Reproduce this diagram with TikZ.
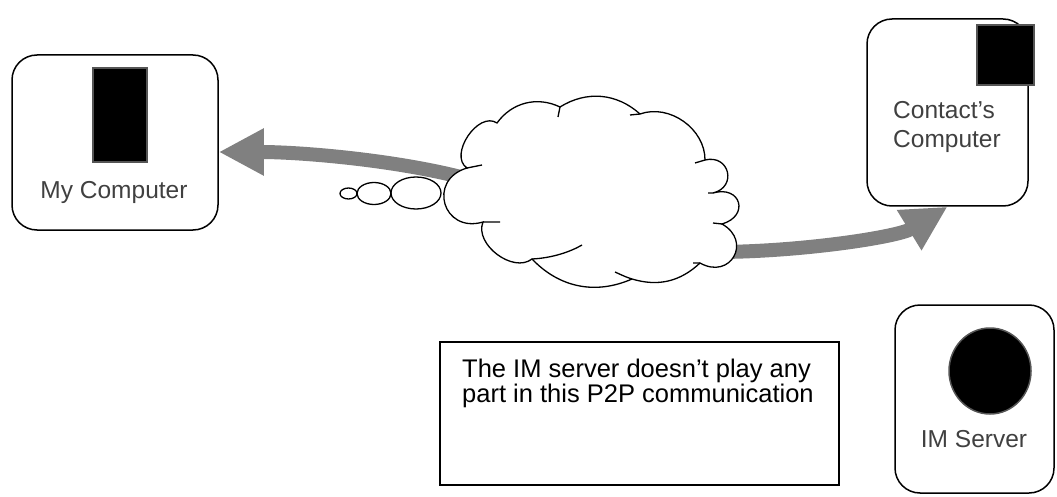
\documentclass[tikz,border=0pt]{standalone}
\usepackage{fontspec}
\setmainfont{Liberation Sans}
\usetikzlibrary{arrows.meta,shapes.geometric}
\definecolor{arrowgrey}{HTML}{808080}
\definecolor{labelgrey}{HTML}{404040}
\definecolor{edgegrey}{HTML}{555555}

\begin{document}
\begin{tikzpicture}[x=1pt,y=-1pt,
  compbox/.style={draw,line width=1.5pt,rounded corners=25pt,inner sep=0pt},
  screenblock/.style={fill=black,draw=edgegrey,line width=1.5pt,inner sep=0pt},
  complabel/.style={text=labelgrey,inner sep=0pt,font=\fontsize{24.5}{29}\selectfont},
  flowarrow/.style={draw=arrowgrey,line width=14pt,-{Triangle[length=45pt,width=44pt]}},
  puff/.style={draw,fill=white,line width=1.3pt}]
\useasboundingbox (0,0) rectangle (1057,497);

% computers and server
\node[compbox,minimum width=206pt,minimum height=175pt] (mycomp) at (115,142.5) {};
\node[screenblock,minimum width=54pt,minimum height=94pt] (myscreen) at (120,115) {};
\node[complabel,anchor=base] (mylabel) at (114,199) {My Computer};

\node[compbox,minimum width=161pt,minimum height=187pt] (contact) at (947.5,112.5) {};
\node[screenblock,minimum width=57pt,minimum height=60pt] (contactscreen) at (1005.5,55) {};
\node[complabel,align=left,anchor=north west] (contactlabel) at (893,101) {Contact's\\Computer};

\node[compbox,minimum width=159pt,minimum height=188pt] (imserver) at (974.5,399) {};
\node[screenblock,ellipse,minimum width=82pt,minimum height=86pt] (serverdisk) at (990,371) {};
\node[complabel,anchor=base] (serverlabel) at (974,447) {IM Server};

% note
\node[draw,line width=1.2pt,minimum width=399pt,minimum height=143pt] (note) at (639.5,413.5) {};
\node[inner sep=0pt,align=left,anchor=north west,font=\fontsize{25.5}{25}\selectfont] (notetext) at (462,359)
  {The IM server doesn't play any\\part in this P2P communication};

% arrows out of the cloud
\coordinate (cloudw) at (472,180);
\coordinate (cloude) at (715,252);
\draw[flowarrow] (cloudw) .. controls (400,160) and (300,152) .. ([yshift=-9.5pt]mycomp.east);
\draw[flowarrow] (cloude) .. controls (800,252) and (898,237) .. (contact.south);

% cloud
\draw[puff] (497,123) to[bend left=40] (560,107) to[bend left=37] (640,114)
  to[bend left=55] (705,160) to[bend left=90,looseness=1.9] (713,193)
  to[bend left=90,looseness=2.3] (722,224) to[bend left=90,looseness=2] (700,263)
  to[bend left=30] (632,279) to[bend left=35] (532,259) to[bend left=75] (483,222)
  to[bend left=90,looseness=1.9] (467,168) to[bend left=90,looseness=1.07] (497,123) -- cycle;
\draw[line width=1.3pt] (560,107) -- (558,117) (640,114) -- (630,115) (705,160) -- (695,163)
  (713,193) -- (708,193) (722,224) -- (713,223) (700,263) -- (693,263)
  (632,279) .. controls (626,277) .. (615,272)
  (532,259) .. controls (552,258) and (570,252) .. (582,245)
  (483,222) -- (500,222) (467,168) -- (482,165);
\node[puff,ellipse,inner sep=0pt,minimum width=50pt,minimum height=32pt] (puffbig) at (416,193) {};
\node[puff,ellipse,inner sep=0pt,minimum width=34pt,minimum height=22pt] (puffmid) at (374,193.5) {};
\node[puff,ellipse,inner sep=0pt,minimum width=17pt,minimum height=11pt] (puffsmall) at (348.5,193.5) {};
\end{tikzpicture}
\end{document}
